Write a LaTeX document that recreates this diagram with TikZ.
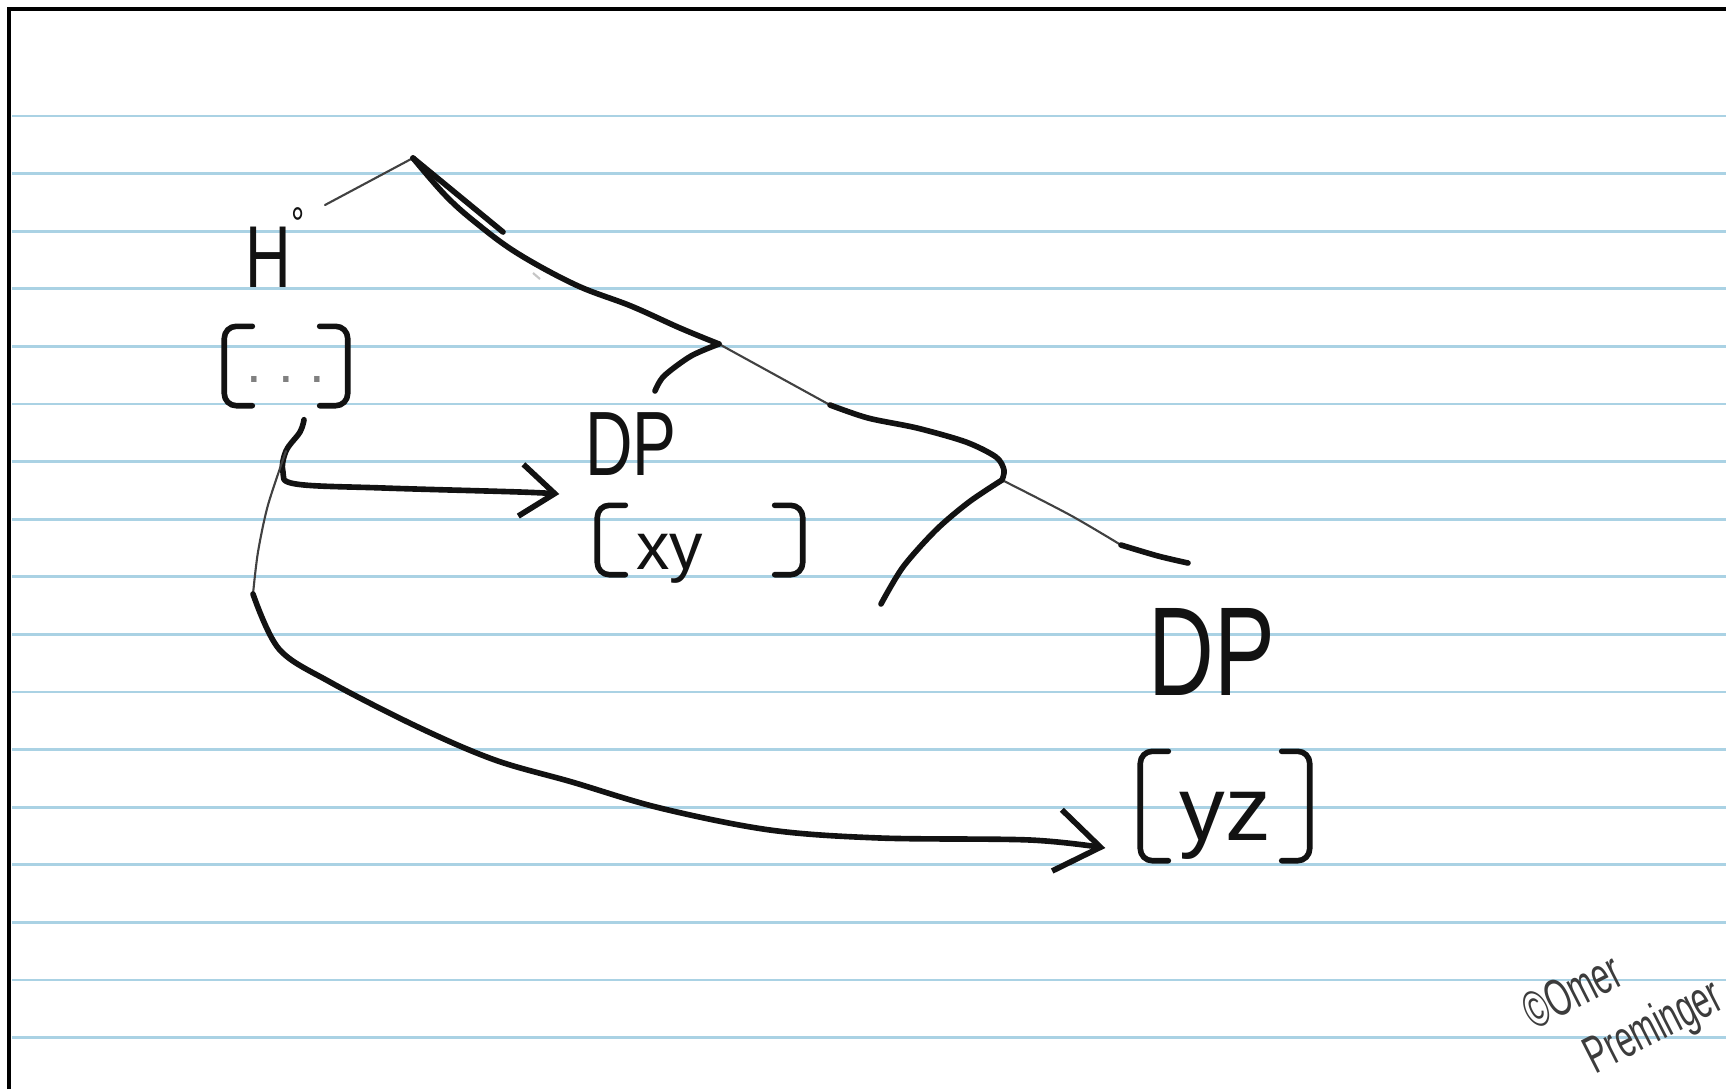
\documentclass[tikz,border=0pt]{standalone}
\usepackage{fontspec}
\setmainfont{Liberation Sans}
\newfontfamily\hand{Liberation Sans}[FakeStretch=0.72]
\newfontfamily\signfont{Liberation Sans}[FakeStretch=0.6]
\usetikzlibrary{arrows.meta,calc}
\definecolor{ruleblue}{RGB}{170,210,228}
\definecolor{pencil}{RGB}{18,18,18}
\definecolor{sigink}{RGB}{60,60,60}
% square brackets round a feature node
\newcommand{\featbrackets}[1]{%
  \draw[ink, rounded corners=1.2mm] ([xshift=2.8mm]#1.north west) -- (#1.north west) -- (#1.south west) -- ([xshift=2.8mm]#1.south west);
  \draw[ink, rounded corners=1.2mm] ([xshift=-2.8mm]#1.north east) -- (#1.north east) -- (#1.south east) -- ([xshift=-2.8mm]#1.south east);}

\begin{document}
\begin{tikzpicture}[x=0.1mm, y=-0.1mm,
  ink/.style={draw=pencil, line width=1.6pt, line cap=round, line join=round},
  hair/.style={draw=pencil!80, line width=0.6pt, line cap=round},
  lbl/.style={inner sep=0pt, text=pencil},
  feat/.style={inner sep=0pt, text=pencil},
  sig/.style={inner sep=0pt, text=sigink, font=\signfont\fontsize{15}{19}\selectfont},
  chev/.style={-{Straight Barb[length=3.4mm,width=5.2mm]}},
  bigchev/.style={-{Straight Barb[length=4.4mm,width=6.2mm]}}]
\fill[white] (0,0) rectangle (1726,1089);
\useasboundingbox (0,0) rectangle (1726,1089);
\clip (0,0) rectangle (1726,1089);

% ruled paper
\foreach \k in {0,...,16}
  \draw[ruleblue, line width=0.75pt] (12,{116+57.6*\k}) -- (1726,{116+57.6*\k});
\draw[line width=0.9pt] (9,1089) -- (9,9) -- (1726,9);

% labels
\node[lbl, font=\hand\fontsize{25}{27}\selectfont] (head) at (275,257)
  {H\raisebox{4.8mm}[0pt][0pt]{\fontsize{13}{13}\selectfont °}};
\node[feat, minimum width=12.2mm, minimum height=7.8mm, font=\fontsize{16}{16}\selectfont] (hval) at (286,366)
  {\raisebox{-1.6mm}[0pt][0pt]{\color{gray}.\hspace{1.6mm}.\hspace{1.6mm}.}};
\node[lbl, font=\hand\fontsize{26}{28}\selectfont] (dpa) at (631,444) {DP};
\node[feat, minimum width=20.4mm, minimum height=6.8mm, font=\fontsize{19}{20}\selectfont] (xy) at (700,540)
  {\makebox[12.7mm][l]{\raisebox{-2.9mm}[0pt][0pt]{xy}}};
\node[lbl, font=\hand\fontsize{36}{38}\selectfont] (dpb) at (1212,652) {DP};
\node[feat, minimum width=16.8mm, minimum height=10.8mm, font=\fontsize{26}{28}\selectfont] (yz) at (1225,806)
  {\raisebox{-3.4mm}[0pt][0pt]{yz}};
\featbrackets{hval}
\featbrackets{xy}
\featbrackets{yz}

% tree
\coordinate (top) at (413,158);
\coordinate (mid) at (719,344);
\coordinate (low) at (1002,480);
\coordinate (rightend) at (1188,563);
\coordinate (leftend) at (881,604);
\draw[hair] ([shift={(5mm,5.2mm)}]head.center) -- (top);
\draw[ink] (top) -- (503,232);
\draw[ink] plot[smooth, tension=0.6] coordinates {(top) (445,195) (475,222) (517,253) (576,285) (631,306) (680,328) (mid)};
\draw[hair] (mid) -- (830,405);
\draw[ink] plot[smooth] coordinates {(830,405) (868,418) (917,428) (966,442) (996,457) (1004,470) (low)};
\draw[hair] plot[smooth] coordinates {(low) (1070,515) (1121,545)};
\draw[ink] plot[smooth] coordinates {(1121,545) (1158,556) (rightend)};
\draw[ink] plot[smooth] coordinates {(low) (969,502) (936,530) (903,567) (leftend)};
\draw[gray!45, line width=0.6pt] (533,273) -- (540,279);

% DP moves up to the tree
\draw[ink] plot[smooth] coordinates {([shift={(2.4mm,5.3mm)}]dpa.center) (664,376) (691,356) (mid)};

% features passed down to the DPs
\coordinate (split) at (286,451);
\draw[ink, chev] plot[smooth, tension=0.6] coordinates {([shift={(1.8mm,-1.4mm)}]hval.south) (300,432) (split) (283,472) (296,484) (384,488) (520,492) ([shift={(-3.8mm,4.6mm)}]xy.west)};
\draw[hair] plot[smooth] coordinates {(split) (268,505) (258,552) (253,594)};
\draw[ink, bigchev] plot[smooth, tension=0.55] coordinates {(253,594) (279,649) (330,682) (418,727) (495,760) (572,782) (660,808) (770,830) (880,838) (1030,840) ([shift={(-3.5mm,-4.2mm)}]yz.west)};

% signature
\node[sig, rotate=27, anchor=west, align=left] (sign) at (1543,1049) {©Omer\\\hspace{3.5mm}Preminger};
\end{tikzpicture}
\end{document}
